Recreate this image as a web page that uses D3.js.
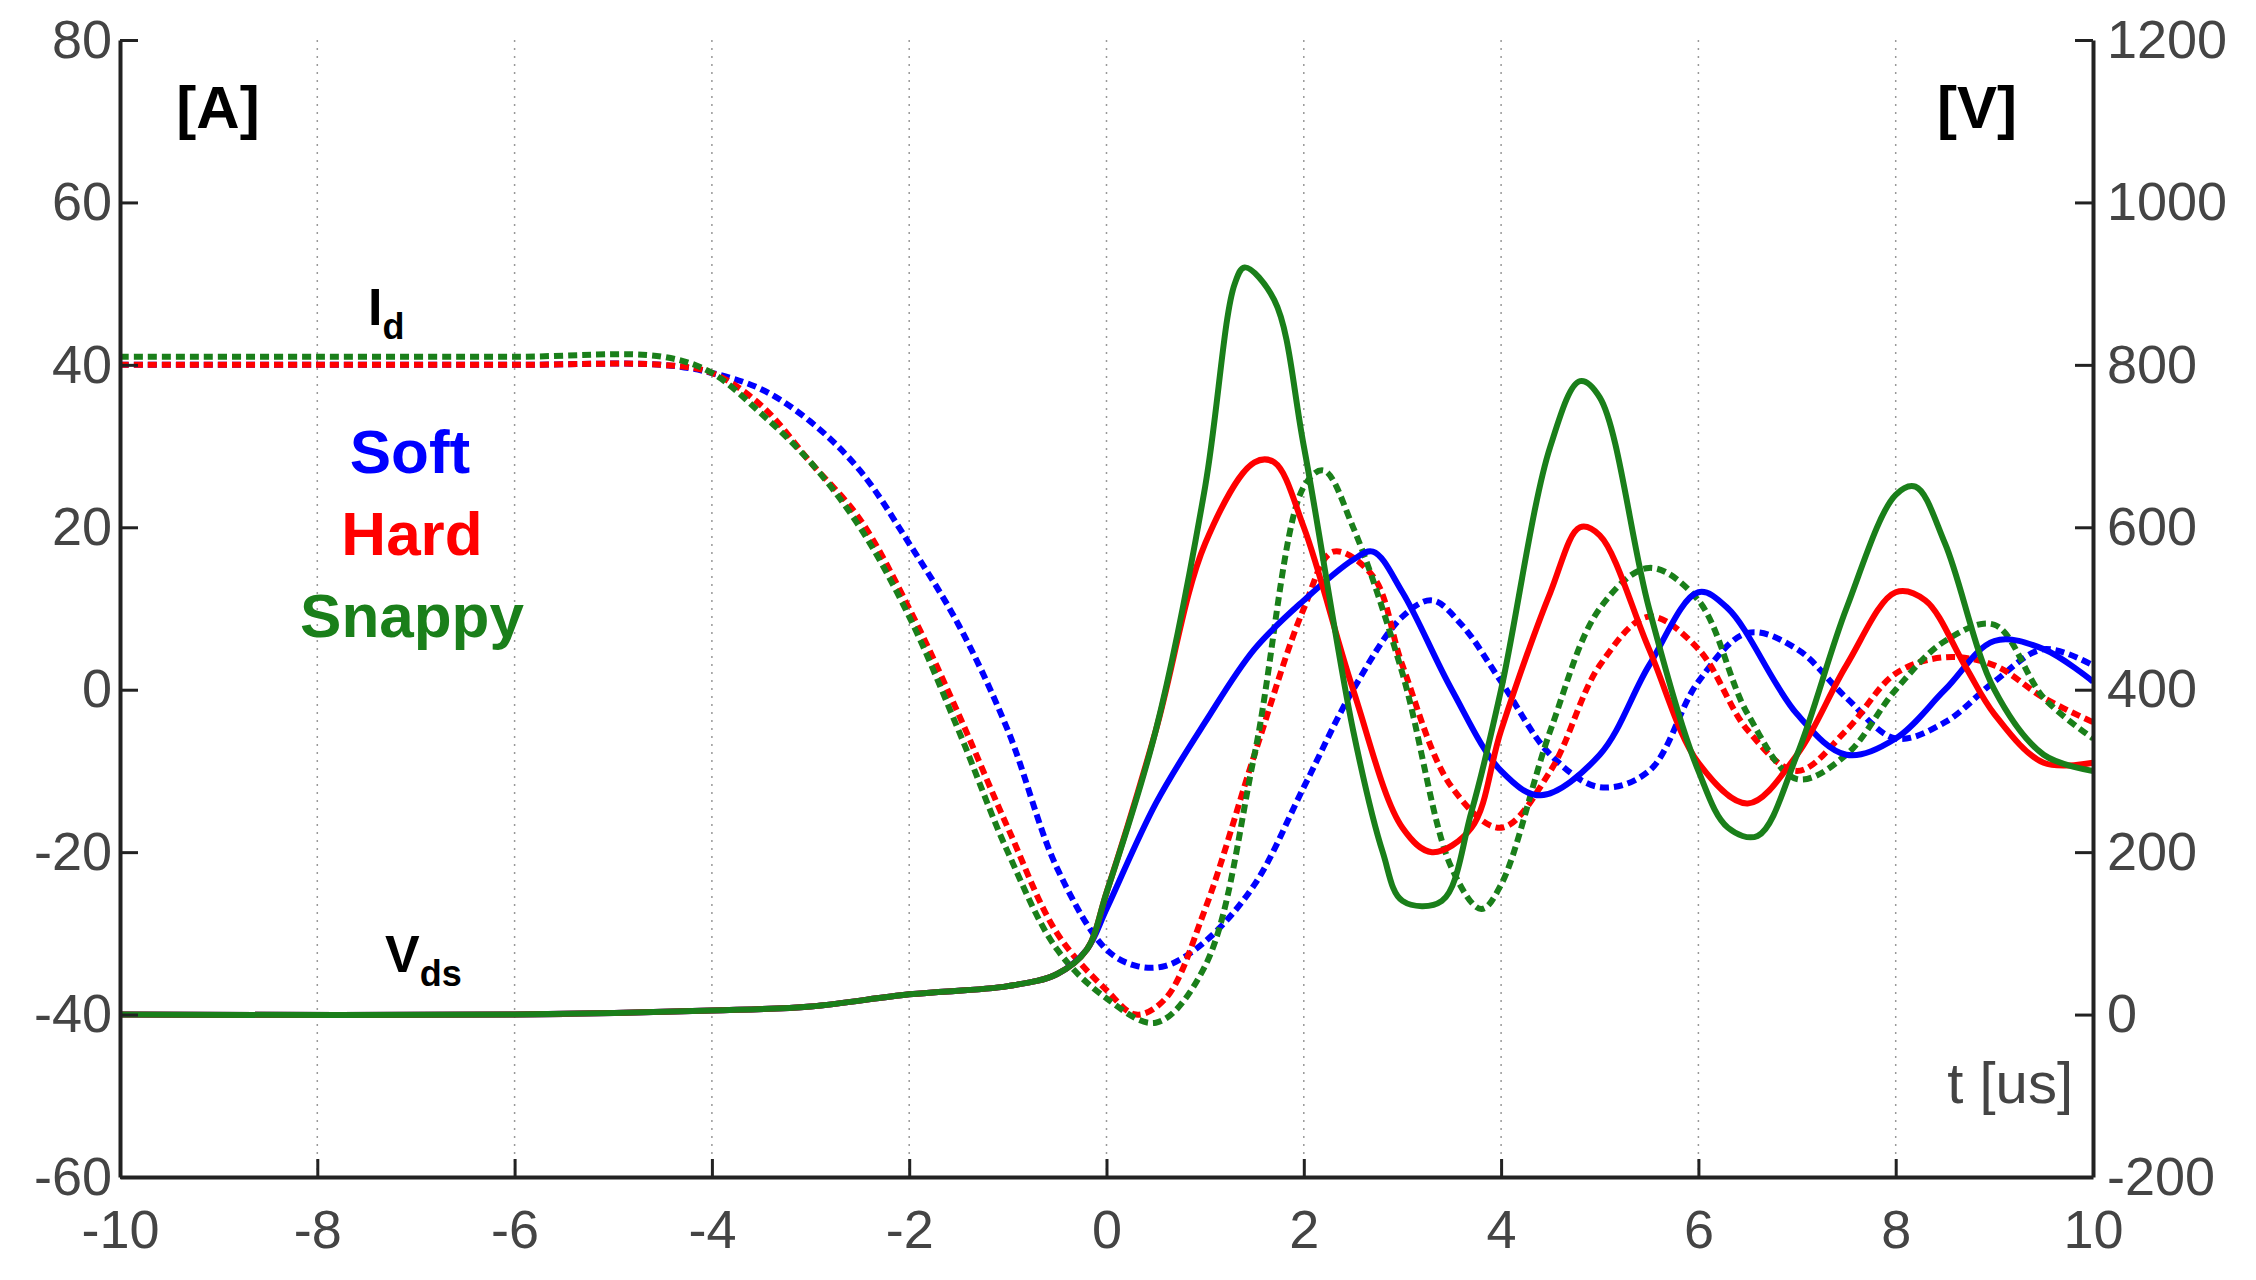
<!DOCTYPE html>
<html><head><meta charset="utf-8">
<script src="https://cdn.jsdelivr.net/npm/d3@7"></script>
<style>body{margin:0;background:#fff}text{font-family:"Liberation Sans",Arial,sans-serif}</style>
</head><body>
<svg id="chart" width="2256" height="1280"></svg>
<script>
// Id (dashed, left axis, A)
var idSoftT  = [-10,-8,-6,-4.5,-4,-3.5,-3,-2.5,-2,-1.5,-1,-0.5,0,0.3,0.6,1,1.5,2,2.5,3,3.3,3.6,4,4.5,5,5.5,6,6.5,7,7.5,8,8.5,9,9.5,10];
var idSoftV  = [40,40,40,40,39,37,33,27,18,8,-5,-22,-32,-34,-34,-31,-24,-12,0,9,11,8,1,-8,-12,-10,1,7,5,-1,-6,-4,1,5,3];
var idHardT  = [-10,-8,-6,-4.5,-4,-3.5,-3,-2.5,-2,-1.5,-1,-0.5,0,0.3,0.6,1,1.5,2,2.3,2.7,3,3.5,4,4.5,5,5.5,6,6.5,7,7.5,8,8.5,9,9.5,10];
var idHardV  = [40,40,40,40,39,35,28,21,10,-3,-17,-30,-37,-40,-38,-27,-8,10,17,14,3,-12,-17,-10,3,9,5,-5,-10,-5,2,4,3,-1,-4];
var idSnapT  = [-10,-8,-6,-4.5,-4,-3.5,-3,-2.5,-2,-1.5,-1,-0.5,0,0.5,1,1.5,2,2.2,2.5,3,3.5,3.8,4,4.5,5,5.5,6,6.5,7,7.5,8,8.5,9,9.5,10];
var idSnapV  = [41,41,41,41,39,34,28,20,9,-5,-20,-32,-38,-41,-34,-8,25,27,20,2,-22,-27,-24,-5,10,15,11,-3,-11,-8,0,6,8,-1,-6];

// Vds (solid, right axis, V)
var vdsSoftT = [-10,-6,-4,-3,-2,-1,-0.5,-0.2,0,0.5,1,1.5,2,2.5,2.7,3,3.5,4,4.4,5,5.5,6,6.3,7,7.5,8,8.5,9,9.5,10];
var vdsSoftV = [0,0,5,10,25,35,50,80,130,260,360,450,510,560,570,520,400,300,270,320,430,520,500,370,320,340,400,460,450,410];
var vdsHardT = [-10,-6,-4,-3,-2,-1,-0.5,-0.2,0,0.5,1,1.5,1.7,2,2.5,3,3.3,3.7,4,4.5,4.8,5,5.5,6,6.5,7,7.5,8,8.3,8.7,9,9.5,10];
var vdsHardV = [0,0,5,10,25,35,50,80,150,350,580,680,680,600,400,230,200,230,350,520,600,590,450,310,260,320,430,520,510,430,370,310,310];
var vdsSnapT = [-10,-6,-4,-3,-2,-1,-0.5,-0.2,0,0.5,1,1.3,1.4,1.7,2,2.5,2.8,3,3.4,3.7,4,4.5,4.8,5,5.5,6,6.3,6.6,7,7.5,8,8.2,8.5,9,9.5,10];
var vdsSnapV = [0,0,5,10,25,35,50,80,150,350,650,900,920,880,700,350,200,140,140,250,400,700,780,760,500,300,230,220,320,500,640,650,580,400,320,300];

var xTicks = [-10,-8,-6,-4,-2,0,2,4,6,8,10];
var yLeftTicks = [-60,-40,-20,0,20,40,60,80];
var yRightTicks = [-200,0,200,400,600,800,1000,1200];

var L = 120, R = 2093, T = 40, B = 1177;
var svg = d3.select('#chart');
var x = d3.scaleLinear().domain([-10, 10]).range([L, R]);
var yA = d3.scaleLinear().domain([-60, 80]).range([B, T]);
var yV = d3.scaleLinear().domain([-200, 1200]).range([B, T]);
var fmt = function (d) { return String(d); };

// dotted grid
svg.append('g').selectAll('line').data(xTicks.slice(1, -1)).join('line')
    .attr('x1', d => x(d)).attr('x2', d => x(d)).attr('y1', T).attr('y2', B)
    .attr('stroke', '#999').attr('stroke-width', 1.5).attr('stroke-dasharray', '2,6');

function series(ts, vs, sc) {
    return ts.map(function (t, i) { return [x(t), sc(vs[i])]; });
}
var line = d3.line().curve(d3.curveCatmullRom.alpha(0.5));
var blue = '#0000ff', red = '#ff0000', green = '#1a7f1a';

var curves = [
    [idSoftT, idSoftV, yA, blue, true],
    [idHardT, idHardV, yA, red, true],
    [idSnapT, idSnapV, yA, green, true],
    [vdsSoftT, vdsSoftV, yV, blue, false],
    [vdsHardT, vdsHardV, yV, red, false],
    [vdsSnapT, vdsSnapV, yV, green, false]
];
curves.forEach(function (c) {
    svg.append('path')
        .attr('d', line(series(c[0], c[1], c[2])))
        .attr('fill', 'none').attr('stroke', c[3]).attr('stroke-width', 6)
        .attr('stroke-dasharray', c[4] ? '9,5' : null);
});

// axes (ticks point inward)
function styleAxis(g) {
    g.selectAll('path').attr('stroke', '#222').attr('stroke-width', 4);
    g.selectAll('line').attr('stroke', '#222').attr('stroke-width', 3);
    g.selectAll('text').attr('fill', '#444').style('font-size', '54px');
}
svg.append('g').attr('transform', 'translate(0,' + B + ')')
    .call(d3.axisBottom(x).tickValues(xTicks).tickFormat(fmt).tickSize(-18).tickPadding(22).tickSizeOuter(0))
    .call(styleAxis).selectAll('text').attr('dy', '0.9em');
svg.append('g').attr('transform', 'translate(' + L + ',0)')
    .call(d3.axisLeft(yA).tickValues(yLeftTicks).tickFormat(fmt).tickSize(-18).tickPadding(8).tickSizeOuter(0))
    .call(styleAxis);
svg.append('g').attr('transform', 'translate(' + R + ',0)')
    .call(d3.axisRight(yV).tickValues(yRightTicks).tickFormat(fmt).tickSize(-18).tickPadding(14).tickSizeOuter(0))
    .call(styleAxis);

// annotations
function label(txt, px, py, color, size, anchor) {
    return svg.append('text').attr('x', px).attr('y', py).attr('fill', color)
        .attr('font-weight', 'bold').style('font-size', size + 'px')
        .attr('text-anchor', anchor || 'middle').text(txt);
}
label('[A]', 218, 128, '#000', 60);
label('[V]', 1977, 128, '#000', 60);
label('Soft', 410, 473, blue, 62);
label('Hard', 412, 555, red, 62);
label('Snappy', 412, 637, green, 62);
var id = label('I', 368, 325, '#000', 52, 'start');
id.append('tspan').attr('dy', 14).style('font-size', '36px').text('d');
var vd = label('V', 385, 972, '#000', 52, 'start');
vd.append('tspan').attr('dy', 14).style('font-size', '36px').text('ds');
svg.append('text').attr('x', 2073).attr('y', 1103).attr('text-anchor', 'end')
    .attr('fill', '#444').style('font-size', '58px').text('t [us]');
</script>
</body></html>
